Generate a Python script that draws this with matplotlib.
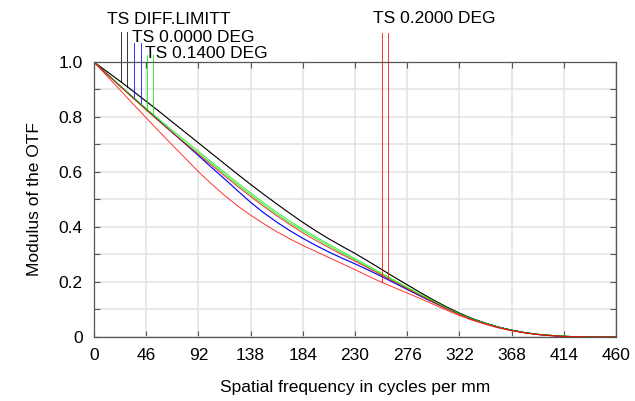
import numpy as np
import matplotlib
matplotlib.use('Agg')
import matplotlib.pyplot as plt
from matplotlib.ticker import MultipleLocator

plt.rcParams['font.family'] = ['Liberation Sans', 'DejaVu Sans']

# Spatial frequency samples (cycles/mm), every 11.5
freq = np.arange(0, 460.1, 11.5)

# MTF values (41 samples each)
diff_limit = [1.0, 0.965, 0.930, 0.894, 0.857, 0.820, 0.782, 0.744, 0.706, 0.668,
              0.630, 0.592, 0.555, 0.519, 0.484, 0.450, 0.417, 0.386, 0.357, 0.330,
              0.304, 0.276, 0.247, 0.218, 0.190, 0.162, 0.135, 0.110, 0.087, 0.067,
              0.050, 0.036, 0.025, 0.016, 0.010, 0.006, 0.003, 0.001, 0.0, 0.0, 0.0]
blue_ts = [1.0, 0.956, 0.913, 0.871, 0.828, 0.786, 0.744, 0.702, 0.660, 0.617,
           0.575, 0.532, 0.490, 0.452, 0.418, 0.387, 0.359, 0.333, 0.309, 0.287,
           0.266, 0.244, 0.221, 0.197, 0.173, 0.149, 0.126, 0.104, 0.084, 0.066,
           0.050, 0.036, 0.025, 0.016, 0.009, 0.005, 0.002, 0.001, 0.0, 0.0, 0.0]
green_t = [1.0, 0.957, 0.914, 0.872, 0.831, 0.791, 0.752, 0.713, 0.675, 0.637,
           0.599, 0.561, 0.524, 0.488, 0.454, 0.422, 0.392, 0.364, 0.337, 0.311,
           0.285, 0.259, 0.233, 0.207, 0.181, 0.156, 0.131, 0.107, 0.085, 0.066,
           0.050, 0.036, 0.025, 0.016, 0.010, 0.006, 0.003, 0.001, 0.0, 0.0, 0.0]
green_s = [1.0, 0.955, 0.911, 0.868, 0.826, 0.785, 0.745, 0.706, 0.668, 0.630,
           0.592, 0.554, 0.517, 0.481, 0.447, 0.415, 0.386, 0.358, 0.331, 0.305,
           0.280, 0.254, 0.229, 0.203, 0.178, 0.153, 0.129, 0.105, 0.083, 0.064,
           0.049, 0.035, 0.024, 0.016, 0.010, 0.006, 0.003, 0.001, 0.0, 0.0, 0.0]
red_t = [1.0, 0.949, 0.898, 0.847, 0.797, 0.747, 0.698, 0.650, 0.601, 0.557,
         0.515, 0.477, 0.443, 0.412, 0.383, 0.357, 0.333, 0.311, 0.289, 0.267,
         0.245, 0.222, 0.200, 0.180, 0.160, 0.140, 0.119, 0.098, 0.078, 0.061,
         0.046, 0.033, 0.023, 0.015, 0.009, 0.005, 0.002, 0.001, 0.0, 0.0, 0.0]
red_s = [1.0, 0.956, 0.912, 0.869, 0.826, 0.784, 0.743, 0.703, 0.664, 0.625,
         0.586, 0.548, 0.511, 0.475, 0.441, 0.409, 0.379, 0.351, 0.325, 0.300,
         0.276, 0.251, 0.226, 0.201, 0.176, 0.151, 0.127, 0.104, 0.082, 0.063,
         0.048, 0.034, 0.023, 0.015, 0.009, 0.005, 0.002, 0.001, 0.0, 0.0, 0.0]

x_ticks = [0, 46, 92, 138, 184, 230, 276, 322, 368, 414, 460]
y_ticks = [0, 0.2, 0.4, 0.6, 0.8, 1.0]
y_labels = ['0', '0.2', '0.4', '0.6', '0.8', '1.0']

# legend: label, colour, (T curve, S curve), marker frequencies, text pos, line top
legend = [
    ('TS DIFF.LIMITT', '#000000', (diff_limit, diff_limit), (23.5, 29.4), (11.5, 1.138), 1.109),
    ('TS 0.0000 DEG', '#0000ff', (blue_ts, blue_ts), (35.2, 41.2), (33.5, 1.073), 1.069),
    ('TS 0.1400 DEG', '#00ee00', (green_t, green_s), (46.4, 52.3), (45.0, 1.015), 1.025),
    ('TS 0.2000 DEG', '#ff0000', (red_t, red_s), (253.5, 258.7), (246.0, 1.142), 1.105),
]

fig = plt.figure(figsize=(6.35, 4.01), dpi=100)
ax = fig.add_axes([0.148, 0.1596, 0.822, 0.6858])

for label, color, (t_curve, s_curve), marks, txt, top in legend:
    ax.plot(freq, t_curve, color=color, lw=0.7, alpha=0.8)
    ax.plot(freq, s_curve, color=color, lw=0.7, alpha=0.8)
    for f, curve in zip(marks, (t_curve, s_curve)):
        yend = np.interp(f, freq, curve)
        ax.plot([f, f], [yend, top], color=color, lw=0.7, alpha=0.8, clip_on=False)
    ax.text(txt[0], txt[1], label, fontsize=12.5, ha='left', va='baseline')

ax.set_xlim(0, 460)
ax.set_ylim(0, 1.0)
ax.set_xticks(x_ticks)
ax.set_xticklabels([str(v) for v in x_ticks])
ax.set_yticks(y_ticks)
ax.set_yticklabels(y_labels)
ax.yaxis.set_minor_locator(MultipleLocator(0.1))

ax.grid(True, which='both', color='#e3e3e3', lw=1.1)
ax.set_axisbelow(True)
ax.tick_params(which='both', direction='in', length=4, width=0.8, color='#555555',
               top=True, right=True, labelsize=12.5, pad=8)

for sp in ax.spines.values():
    sp.set_color('#555555')
    sp.set_linewidth(0.9)

ax.set_xlabel('Spatial frequency in cycles per mm', fontsize=12.5, labelpad=12)
ax.set_ylabel('Modulus of the OTF', fontsize=12.5, labelpad=12)

plt.savefig('out.png', dpi=100)
